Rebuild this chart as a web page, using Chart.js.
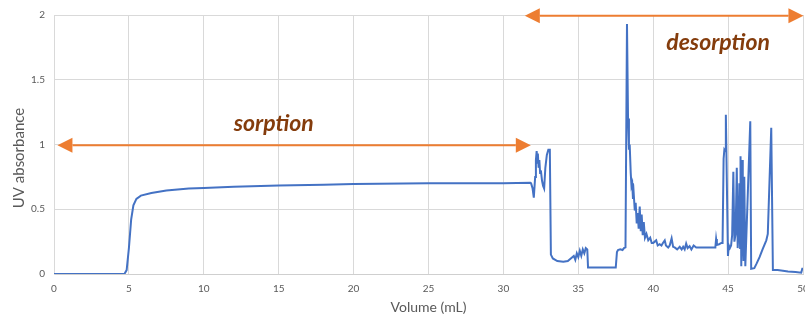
<!DOCTYPE html>
<html><head><meta charset="utf-8">
<script src="https://cdn.jsdelivr.net/npm/chart.js@4.4.1/dist/chart.umd.min.js"></script>
<style>html,body{margin:0;padding:0;background:#fff;overflow:hidden}#wrap{width:805px;height:320px;position:relative}</style>
</head><body><div id="wrap"><canvas id="c"></canvas></div>
<script>
// ---- data ----
const volume = [
  0, 4.7, 4.85, 5.0, 5.15, 5.3, 5.5, 5.8, 6.5, 7.5, 9, 10, 12, 15, 18, 20, 25, 30, 31.8,
  31.85, 31.95, 32.03, 32.12, 32.17, 32.22, 32.27, 32.3, 32.35, 32.4, 32.45, 32.5, 32.58, 32.65, 32.72, 32.8, 32.9, 33.0, 33.1,
  33.17, 33.3, 33.6, 34.0, 34.3, 34.5, 34.7, 34.8, 34.9, 35.0, 35.1, 35.2, 35.3, 35.4, 35.5, 35.6,
  35.65, 37.5, 37.58, 37.65, 37.8, 37.95, 38.05, 38.15, 38.25, 38.32, 38.38, 38.43,
  38.5, 38.55, 38.6, 38.65, 38.7, 38.77, 38.83, 38.9, 38.97, 39.03, 39.1, 39.17, 39.23, 39.3, 39.37, 39.45, 39.55, 39.67, 39.8, 39.9,
  40.0, 40.1, 40.2, 40.3, 40.43, 40.55, 40.65, 40.77, 40.85, 41.0, 41.1, 41.23, 41.33, 41.43, 41.6, 41.77, 41.9, 42.0, 42.1, 42.2, 42.3, 42.43, 42.55, 42.7, 42.87,
  44.15, 44.2, 44.25, 44.4, 44.55, 44.63, 44.7, 44.75, 44.8, 44.85, 44.9, 44.99,
  45.05, 45.12, 45.2, 45.27, 45.35, 45.42, 45.5, 45.58, 45.64, 45.7, 45.75, 45.8, 45.83, 45.88, 45.93, 45.98, 46.03, 46.08, 46.15,
  46.48, 46.54, 46.75, 46.9, 47.1, 47.3, 47.55, 47.65, 47.88, 47.99, 48.3, 48.66, 49.0, 49.5, 49.88, 49.95, 50
];
const absorbance = [
  0, 0, 0.03, 0.2, 0.42, 0.53, 0.58, 0.605, 0.625, 0.645, 0.66, 0.665, 0.673, 0.683, 0.69, 0.695, 0.70, 0.70, 0.705,
  0.70, 0.66, 0.59, 0.75, 0.88, 0.95, 0.86, 0.93, 0.82, 0.88, 0.78, 0.80, 0.72, 0.68, 0.66, 0.82, 0.92, 0.96, 0.96,
  0.15, 0.12, 0.10, 0.095, 0.10, 0.12, 0.14, 0.11, 0.16, 0.13, 0.18, 0.14, 0.19, 0.16, 0.20, 0.19,
  0.05, 0.05, 0.17, 0.185, 0.19, 0.185, 0.20, 0.205, 1.93, 1.2, 0.96, 1.0,
  0.78, 0.68, 0.70, 0.58, 0.62, 0.49, 0.55, 0.39, 0.47, 0.35, 0.52, 0.33, 0.46, 0.30, 0.40, 0.28, 0.31, 0.26, 0.28, 0.24,
  0.24, 0.25, 0.26, 0.22, 0.23, 0.22, 0.24, 0.26, 0.22, 0.205, 0.22, 0.275, 0.21, 0.205, 0.19, 0.21, 0.19, 0.21, 0.19, 0.235, 0.20, 0.215, 0.19, 0.22, 0.205,
  0.205, 0.27, 0.225, 0.23, 0.24, 0.24, 0.89, 0.96, 0.95, 1.23, 0.83, 0.14,
  0.22, 0.20, 0.22, 0.30, 0.79, 0.25, 0.31, 0.82, 0.20, 0.34, 0.70, 0.20, 0.91, 0.06, 0.88, 0.30, 0.10, 0.75, 0.06,
  1.18, 0.04, 0.045, 0.08, 0.13, 0.19, 0.26, 0.31, 1.13, 0.03, 0.03, 0.025, 0.02, 0.015, 0.01, 0.04, 0.04
];
const xTickValues = [0, 5, 10, 15, 20, 25, 30, 35, 40, 45, 50];
const xTickLabels = ['0', '5', '10', '15', '20', '25', '30', '35', '40', '45', '50'];
const yTickValues = [0, 0.5, 1, 1.5, 2];
const yTickLabels = ['0', '0.5', '1', '1.5', '2'];
const xTitle = 'Volume (mL)';
const yTitle = 'UV absorbance';

// annotation definitions in data coordinates
const arrows = [
  { from: 0.23, to: 31.83, y: 0.995 },
  { from: 31.43, to: 50.03, y: 1.995 }
];
const phaseLabels = [
  { text: 'sorption', x: 14.67, y: 1.158 },
  { text: 'desorption', x: 44.33, y: 1.784 }
];

const FONT = 'Lato, "Open Sans", sans-serif';
const GREY = '#595959';

const annotationPlugin = {
  id: 'phaseAnnotations',
  afterDraw(chart) {
    const { ctx, scales: { x, y } } = chart;
    ctx.save();
    ctx.strokeStyle = '#ED7D31';
    ctx.fillStyle = '#ED7D31';
    ctx.lineWidth = 2;
    const head = 15, half = 7.5;
    arrows.forEach(a => {
      const x1 = x.getPixelForValue(a.from), x2 = x.getPixelForValue(a.to), py = y.getPixelForValue(a.y);
      ctx.beginPath();
      ctx.moveTo(x1 + head, py); ctx.lineTo(x2 - head, py); ctx.stroke();
      ctx.beginPath();
      ctx.moveTo(x1, py); ctx.lineTo(x1 + head, py - half); ctx.lineTo(x1 + head, py + half); ctx.closePath(); ctx.fill();
      ctx.beginPath();
      ctx.moveTo(x2, py); ctx.lineTo(x2 - head, py - half); ctx.lineTo(x2 - head, py + half); ctx.closePath(); ctx.fill();
    });
    ctx.fillStyle = '#843C0C';
    ctx.font = 'italic bold 23px ' + FONT;
    ctx.textAlign = 'center';
    ctx.textBaseline = 'middle';
    phaseLabels.forEach(l => {
      ctx.fillText(l.text, x.getPixelForValue(l.x), y.getPixelForValue(l.y));
    });
    // y axis title
    ctx.fillStyle = GREY;
    ctx.font = '15px ' + FONT;
    ctx.translate(19, 158);
    ctx.rotate(-Math.PI / 2);
    ctx.fillText(yTitle, 0, 0);
    ctx.restore();
  }
};

new Chart(document.getElementById('c'), {
  type: 'line',
  data: {
    datasets: [{
      label: 'UV absorbance',
      data: volume.map((v, i) => ({ x: v, y: absorbance[i] })),
      borderColor: '#4472C4',
      borderWidth: 2,
      pointRadius: 0,
      tension: 0,
      fill: false
    }]
  },
  options: {
    responsive: true,
    maintainAspectRatio: false,
    animation: false,
    layout: { padding: { left: 0, right: 2, top: 15, bottom: 0 } },
    plugins: { legend: { display: false }, tooltip: { enabled: false } },
    scales: {
      x: {
        type: 'linear', min: 0, max: 50,
        afterBuildTicks: s => { s.ticks = xTickValues.map(v => ({ value: v })); },
        afterFit: s => { s.height = 46; s.paddingLeft = 0; s.paddingRight = 0; },
        grid: { color: '#d9d9d9', lineWidth: 1, drawTicks: false },
        border: { color: '#cfcfcf', width: 1 },
        ticks: {
          color: GREY, font: { family: FONT, size: 10 }, padding: 9, maxRotation: 0, autoSkip: false,
          callback: v => xTickLabels[xTickValues.indexOf(v)]
        },
        title: { display: true, text: xTitle, color: GREY, font: { family: FONT, size: 14 }, padding: { top: 4, bottom: 4 } }
      },
      y: {
        type: 'linear', min: 0, max: 2,
        afterBuildTicks: s => { s.ticks = yTickValues.map(v => ({ value: v })); },
        afterFit: s => { s.width = 54; s.paddingTop = 0; s.paddingBottom = 0; },
        grid: { color: '#d9d9d9', lineWidth: 1, drawTicks: false },
        border: { color: '#d9d9d9', width: 1 },
        ticks: {
          color: GREY, font: { family: FONT, size: 10 }, padding: 9,
          callback: v => yTickLabels[yTickValues.indexOf(v)]
        }
      }
    }
  },
  plugins: [annotationPlugin]
});
</script>
</body></html>
